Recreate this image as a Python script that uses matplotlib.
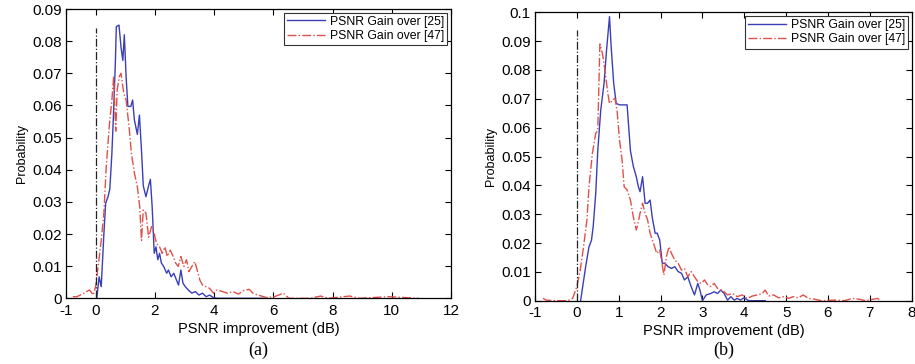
import matplotlib
matplotlib.use("Agg")
import matplotlib.pyplot as plt
import numpy as np
from matplotlib.ticker import FuncFormatter

# Panel (a) data
a_blue_x = [0.04, 0.12, 0.19, 0.28, 0.34, 0.42, 0.48, 0.55, 0.61, 0.67, 0.70, 0.79, 0.86, 0.92,
            0.97, 1.03, 1.09, 1.19, 1.25, 1.31, 1.41, 1.48, 1.55, 1.61, 1.70, 1.79, 1.85, 1.91,
            1.98, 2.04, 2.10, 2.16, 2.22, 2.30, 2.40, 2.46, 2.55, 2.64, 2.73, 2.80, 2.88, 2.95,
            3.03, 3.13, 3.25, 3.37, 3.49, 3.61, 3.73, 3.85, 3.98, 4.10, 5.80]
a_blue_y = [0.0, 0.0067, 0.0036, 0.020, 0.0296, 0.0316, 0.034, 0.045, 0.0586, 0.074, 0.0845,
            0.085, 0.078, 0.074, 0.082, 0.069, 0.0597, 0.0597, 0.0617, 0.0555, 0.051, 0.057,
            0.046, 0.035, 0.0316, 0.035, 0.037, 0.0285, 0.014, 0.016, 0.012, 0.014, 0.011,
            0.0099, 0.0078, 0.0088, 0.0067, 0.0078, 0.0057, 0.0041, 0.0088, 0.0047, 0.0036,
            0.0026, 0.0016, 0.0021, 0.001, 0.0016, 0.0005, 0.001, 0.0002, 0.0, 0.0]

a_red_x = [-0.77, -0.63, -0.39, -0.2, -0.08, 0.0, 0.1, 0.19, 0.28, 0.36, 0.46, 0.55, 0.61, 0.68,
           0.73, 0.80, 0.86, 0.95, 1.03, 1.13, 1.21, 1.31, 1.41, 1.49, 1.55, 1.61, 1.70, 1.79,
           1.89, 1.98, 2.06, 2.16, 2.25, 2.34, 2.42, 2.52, 2.62, 2.70, 2.79, 2.88, 2.98, 3.07,
           3.15, 3.25, 3.35, 3.43, 3.52, 3.61, 3.73, 3.85, 3.98, 4.10, 4.28, 4.46, 4.64, 4.82,
           5.00, 5.19, 5.31, 5.49, 5.67, 5.79, 6.04, 6.34, 6.52, 7.25, 7.60, 7.85, 8.58, 8.90,
           9.90, 10.90]
a_red_y = [0.0005, 0.0005, 0.0016, 0.0026, 0.001, 0.0036, 0.011, 0.018, 0.0265, 0.041, 0.0534,
           0.0617, 0.069, 0.052, 0.065, 0.069, 0.070, 0.0638, 0.0617, 0.0534, 0.045, 0.039,
           0.0347, 0.0285, 0.018, 0.0275, 0.0265, 0.019, 0.0223, 0.020, 0.017, 0.016, 0.014,
           0.016, 0.013, 0.015, 0.013, 0.011, 0.0099, 0.013, 0.0099, 0.012, 0.0083, 0.0099,
           0.0114, 0.0088, 0.0057, 0.0041, 0.0036, 0.0031, 0.0016, 0.0026, 0.0021, 0.0016,
           0.0021, 0.0013, 0.0024, 0.0028, 0.0016, 0.001, 0.0005, 0.0002, 0.0005, 0.0016,
           0.0, 0.0, 0.0007, 0.0, 0.0007, 0.0, 0.0005, 0.0]

# Panel (b) data
b_blue_x = [0.09, 0.21, 0.29, 0.35, 0.39, 0.45, 0.50, 0.57, 0.65, 0.71, 0.78, 0.82, 0.88, 0.94,
            1.02, 1.12, 1.20, 1.28, 1.35, 1.42, 1.47, 1.51, 1.57, 1.63, 1.69, 1.75, 1.80, 1.87,
            1.92, 1.98, 2.04, 2.10, 2.18, 2.26, 2.34, 2.42, 2.50, 2.57, 2.65, 2.73, 2.81, 2.89,
            2.94, 3.00, 3.09, 3.20, 3.28, 3.36, 3.44, 3.52, 3.60, 3.68, 3.76, 3.83, 3.91, 3.99,
            4.11, 4.50]
b_blue_y = [0.0, 0.0118, 0.0187, 0.021, 0.0257, 0.037, 0.052, 0.066, 0.0754, 0.087, 0.0985,
            0.088, 0.0754, 0.0684, 0.0679, 0.0679, 0.0679, 0.052, 0.0465, 0.043, 0.0395, 0.0378,
            0.043, 0.0338, 0.0338, 0.0349, 0.029, 0.0234, 0.0234, 0.021, 0.013, 0.013, 0.0118,
            0.0112, 0.0118, 0.0101, 0.0095, 0.0072, 0.0083, 0.0049, 0.002, 0.006, 0.0037, 0.0,
            0.002, 0.0025, 0.0031, 0.0025, 0.0037, 0.0025, 0.0002, 0.0014, 0.0002, 0.0008,
            0.0002, 0.001, 0.0, 0.0]

b_red_x = [-0.81, -0.73, -0.54, -0.22, -0.1, 0.0, 0.08, 0.16, 0.24, 0.29, 0.37, 0.45, 0.50, 0.55,
           0.61, 0.66, 0.74, 0.78, 0.86, 0.91, 0.96, 1.02, 1.08, 1.13, 1.20, 1.28, 1.35, 1.42,
           1.46, 1.51, 1.57, 1.63, 1.69, 1.75, 1.83, 1.91, 1.98, 2.08, 2.14, 2.20, 2.26, 2.34,
           2.42, 2.50, 2.57, 2.65, 2.73, 2.81, 2.89, 2.97, 3.05, 3.13, 3.20, 3.28, 3.36, 3.44,
           3.52, 3.60, 3.72, 3.83, 3.95, 4.07, 4.19, 4.31, 4.43, 4.50, 4.58, 4.70, 4.82, 4.94,
           5.06, 5.17, 5.29, 5.41, 5.53, 5.69, 5.84, 6.16, 6.39, 6.59, 6.75, 6.90, 7.18, 7.26]
b_red_y = [0.0008, 0.0002, 0.0, 0.0, 0.0008, 0.0049, 0.0106, 0.0187, 0.028, 0.0395, 0.051,
           0.058, 0.059, 0.089, 0.0858, 0.081, 0.0719, 0.0684, 0.0696, 0.0702, 0.066, 0.0557,
           0.0488, 0.0395, 0.0384, 0.0349, 0.029, 0.0245, 0.0268, 0.0303, 0.0338, 0.0303, 0.028,
           0.0234, 0.0199, 0.0164, 0.0176, 0.0089, 0.0153, 0.0187, 0.0164, 0.0141, 0.013,
           0.0106, 0.0112, 0.0083, 0.0101, 0.0083, 0.0066, 0.006, 0.0072, 0.0054, 0.0049,
           0.006, 0.0043, 0.0037, 0.0031, 0.002, 0.0025, 0.0014, 0.002, 0.0008, 0.0016, 0.002,
           0.0025, 0.0037, 0.0016, 0.002, 0.001, 0.0014, 0.0008, 0.0014, 0.001, 0.002, 0.0008,
           0.0005, 0.0, 0.0002, 0.0, 0.0008, 0.0005, 0.0, 0.0008, 0.0]

legend_labels = ["PSNR Gain over [25]", "PSNR Gain over [47]"]

BLUE = "#3a3fb8"
RED = "#e0504a"

plt.rcParams["font.family"] = ["Liberation Sans", "DejaVu Sans"]
plt.rcParams["axes.unicode_minus"] = False

fig = plt.figure(figsize=(9.15, 3.64), dpi=100)
ax_a = fig.add_axes([0.0721, 0.1805, 0.4208, 0.7947])
ax_b = fig.add_axes([0.5847, 0.1739, 0.4117, 0.7923])


def style(ax, xlim, xticks, ylim, yticks, zero_top, bx, by, rx, ry, caption):
    ax.plot(bx, by, "-", color=BLUE, lw=1.0, label=legend_labels[0])
    ax.plot(rx, ry, "-.", color=RED, lw=1.0, label=legend_labels[1])
    ax.plot([0, 0], [0, zero_top], "-.", color="#222222", lw=0.9)
    ax.set_xlim(*xlim)
    ax.set_ylim(*ylim)
    ax.set_xticks(xticks)
    ax.set_yticks(yticks)
    ax.yaxis.set_major_formatter(FuncFormatter(lambda v, p: "0" if abs(v) < 1e-9 else f"{v:g}"))
    ax.tick_params(direction="in", top=True, right=True, labelsize=11, length=4, width=0.8)
    ax.tick_params(axis="x", pad=4)
    ax.tick_params(axis="y", pad=3)
    for s in ax.spines.values():
        s.set_linewidth(0.9)
    ax.set_xlabel("PSNR improvement (dB)", fontsize=10.5, labelpad=3)
    ax.set_ylabel("Probability", fontsize=9, labelpad=3)
    leg = ax.legend(loc="upper right", fontsize=8.8, fancybox=False, edgecolor="#333333",
                    framealpha=1, borderpad=0.25, handlelength=3.1, handletextpad=0.4,
                    labelspacing=0.2, borderaxespad=0.3)
    leg.get_frame().set_linewidth(0.8)
    pos = ax.get_position()
    fig.text((pos.x0 + pos.x1) / 2, 1 - 350 / 364, caption, ha="center", va="center",
             fontsize=13, family="Liberation Serif")


style(ax_a, (-1, 12), [-1, 0, 2, 4, 6, 8, 10, 12], (0, 0.09), np.arange(0, 0.0901, 0.01),
      0.0842, a_blue_x, a_blue_y, a_red_x, a_red_y, "(a)")
style(ax_b, (-1, 8), list(range(-1, 9)), (0, 0.1), np.arange(0, 0.1001, 0.01),
      0.094, b_blue_x, b_blue_y, b_red_x, b_red_y, "(b)")

fig.savefig("out.png", dpi=100)
